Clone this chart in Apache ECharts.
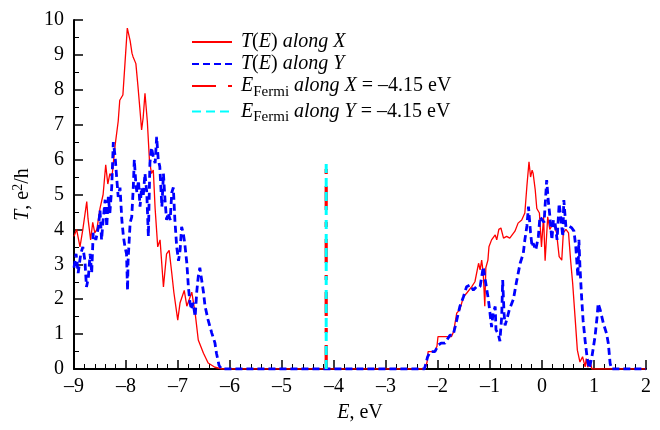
<!DOCTYPE html>
<html><head><meta charset="utf-8">
<script src="https://cdn.jsdelivr.net/npm/echarts@6/dist/echarts.min.js"></script>
<style>html,body{margin:0;padding:0;background:#fff}#c{width:660px;height:430px}</style>
</head><body><div id="c"></div>
<script>
// E (eV) vs T (e^2/h)
const tAlongX = [
[-9.0,3.8],[-8.95,4.0],[-8.885,3.5],[-8.83,4.0],[-8.755,4.8],[-8.73,4.3],[-8.68,3.7],[-8.64,4.2],[-8.60,3.9],[-8.56,4.0],
[-8.50,4.6],[-8.44,5.0],[-8.39,5.85],[-8.35,5.3],[-8.31,5.6],[-8.27,5.5],[-8.21,6.4],[-8.15,7.1],[-8.12,7.7],[-8.06,7.85],
[-8.02,8.75],[-7.975,9.77],[-7.92,9.4],[-7.885,9.05],[-7.865,8.95],[-7.81,8.75],[-7.77,8.1],[-7.73,7.4],[-7.70,6.85],[-7.67,7.2],
[-7.635,7.9],[-7.59,7.1],[-7.55,6.0],[-7.51,5.6],[-7.475,5.7],[-7.44,4.6],[-7.39,3.5],[-7.345,3.7],[-7.28,2.35],[-7.22,3.3],
[-7.17,3.4],[-7.12,2.75],[-7.08,2.2],[-7.005,1.4],[-6.96,1.9],[-6.88,2.25],[-6.83,1.8],[-6.735,2.2],[-6.67,1.6],[-6.61,0.83],
[-6.51,0.45],[-6.42,0.17],[-6.29,0.05],[-6.15,0],
[-2.25,0],[-2.21,0.2],[-2.19,0.5],[-2.06,0.5],[-2.02,0.65],[-2.0,0.93],[-1.74,0.93],[-1.70,1.07],[-1.64,1.6],[-1.58,1.7],
[-1.51,2.07],[-1.45,2.17],[-1.35,2.36],[-1.29,2.5],[-1.22,3.03],[-1.19,2.84],[-1.16,3.12],[-1.13,2.74],[-1.10,1.8],[-1.08,2.9],
[-1.04,3.12],[-1.02,3.5],[-0.97,3.7],[-0.90,3.84],[-0.87,3.7],[-0.83,4.0],[-0.79,4.04],[-0.74,3.75],[-0.68,3.8],[-0.62,3.75],
[-0.52,3.95],[-0.46,4.18],[-0.39,4.27],[-0.33,4.47],[-0.29,5.25],[-0.25,5.94],[-0.22,5.5],[-0.19,5.7],[-0.17,5.6],[-0.13,5.13],
[-0.10,4.6],[-0.05,4.47],[-0.01,3.5],[0.03,4.36],[0.06,3.1],[0.11,4.36],[0.15,4.0],[0.22,4.18],[0.28,3.9],[0.33,3.22],
[0.38,3.12],[0.41,3.9],[0.46,4.0],[0.51,3.9],[0.55,3.12],[0.59,2.45],[0.635,1.5],[0.68,0.54],[0.73,0.2],[0.78,0.35],
[0.83,0.06],[0.85,0.3],[0.88,0.05],[0.92,0.25],[0.96,0],[2.0,0]
];
const tAlongY = [
[-9.0,2.9],[-8.96,3.3],[-8.92,2.75],[-8.87,3.3],[-8.83,3.5],[-8.79,3.1],[-8.76,2.35],[-8.725,2.6],[-8.69,3.3],[-8.66,2.75],
[-8.63,3.9],[-8.58,3.7],[-8.53,4.07],[-8.5,4.55],[-8.47,3.7],[-8.44,4.27],[-8.40,4.85],[-8.37,4.07],[-8.34,4.93],[-8.31,4.47],
[-8.275,5.2],[-8.244,6.5],[-8.21,6.1],[-8.18,5.5],[-8.15,4.93],[-8.115,5.2],[-8.08,4.27],[-8.05,3.8],[-8.02,3.5],[-7.99,3.3],
[-7.97,2.25],[-7.96,3.1],[-7.92,4.2],[-7.89,4.35],[-7.86,5.2],[-7.84,6.0],[-7.81,5.3],[-7.79,5.05],[-7.76,5.4],[-7.73,4.65],
[-7.70,5.2],[-7.67,4.93],[-7.635,5.6],[-7.60,5.05],[-7.57,3.8],[-7.54,5.9],[-7.51,6.35],[-7.475,6.07],[-7.44,5.9],[-7.41,6.65],
[-7.38,6.0],[-7.35,5.8],[-7.31,4.65],[-7.28,5.6],[-7.25,4.85],[-7.22,4.27],[-7.19,4.47],[-7.15,4.27],[-7.12,5.05],[-7.09,5.2],
[-7.06,4.27],[-7.025,3.5],[-6.99,3.1],[-6.96,3.4],[-6.93,4.07],[-6.90,3.9],[-6.87,3.6],[-6.83,3.03],[-6.80,2.35],[-6.77,1.9],
[-6.74,1.7],[-6.71,1.9],[-6.67,1.5],[-6.64,2.2],[-6.61,2.65],[-6.58,2.9],[-6.545,2.55],[-6.51,2.2],[-6.48,1.8],[-6.42,1.4],
[-6.35,1.03],[-6.29,0.75],[-6.26,0.45],[-6.21,0.1],[-6.16,0],
[-2.26,0],[-2.25,0.05],[-2.2,0.35],[-2.15,0.5],[-2.06,0.5],[-1.99,0.69],[-1.94,0.74],[-1.865,0.74],[-1.77,0.97],[-1.71,0.97],
[-1.67,1.21],[-1.64,1.4],[-1.58,1.79],[-1.51,2.07],[-1.45,2.36],[-1.385,2.41],[-1.32,2.26],[-1.26,2.36],[-1.19,2.36],[-1.16,2.64],
[-1.13,2.93],[-1.10,2.64],[-1.06,2.26],[-1.03,1.98],[-1.0,1.6],[-0.97,1.2],[-0.94,1.6],[-0.90,1.79],[-0.885,1.12],[-0.84,1.0],
[-0.81,0.8],[-0.775,1.5],[-0.756,2.55],[-0.73,1.6],[-0.71,1.25],[-0.68,1.4],[-0.63,1.69],[-0.55,2.0],[-0.49,2.5],[-0.42,3.03],
[-0.36,3.31],[-0.33,3.7],[-0.29,4.1],[-0.26,4.65],[-0.22,3.9],[-0.19,3.5],[-0.17,3.6],[-0.12,3.41],[-0.07,3.79],[-0.04,4.36],
[-0.01,4.4],[0.04,4.2],[0.09,5.41],[0.12,4.84],[0.15,4.4],[0.19,3.7],[0.22,4.27],[0.25,4.2],[0.29,3.7],[0.33,4.74],
[0.36,4.36],[0.40,3.79],[0.42,4.84],[0.46,4.07],[0.51,4.1],[0.57,4.05],[0.615,3.95],[0.65,3.5],[0.69,2.64],[0.71,3.7],
[0.73,2.93],[0.76,2.1],[0.79,1.4],[0.83,0.8],[0.87,0.3],[0.91,0.02],[0.96,0.35],[1.02,0.93],[1.06,1.5],[1.08,1.88],
[1.12,1.69],[1.18,1.31],[1.24,1.02],[1.275,0.74],[1.31,0.16],[1.34,0],[2.0,0]
];
const fermiE = -4.15;
const fermiTop = 6;
const fermiX = [[fermiE,0],[fermiE,fermiTop]];
const fermiY = [[fermiE,0],[fermiE,fermiTop]];
const xMin = -9, xMax = 2, yMin = 0, yMax = 10;
const names = ['tx','ty','fx','fy'];

const serif = 'Liberation Serif';
const legendText = {
  tx: '{i|T}{n|(}{i|E}{n|)} {i|along X}',
  ty: '{i|T}{n|(}{i|E}{n|)} {i|along Y}',
  fx: '{i|E}{sub|Fermi}{n| }{i|along X}{n| = –4.15 eV}',
  fy: '{i|E}{sub|Fermi}{n| }{i|along Y}{n| = –4.15 eV}'
};
const chart = echarts.init(document.getElementById('c'), null, {renderer:'canvas'});
chart.setOption({
  animation:false,
  backgroundColor:'#fff',
  grid:{left:74, right:14, top:20, bottom:61},
  legend:{
    data:names, left:186, top:27, orient:'vertical', itemWidth:40, itemHeight:14, itemGap:2,
    itemStyle:{opacity:0},
    formatter:n=>legendText[n],
    textStyle:{fontFamily:serif, fontSize:20, color:'#000', padding:[0,0,0,4],
      rich:{
        i:{fontFamily:serif, fontSize:20, fontStyle:'italic', color:'#000'},
        n:{fontFamily:serif, fontSize:20, color:'#000'},
        sub:{fontFamily:serif, fontSize:15, color:'#000', padding:[12,0,0,0]}
      }}
  },
  xAxis:{
    type:'value', min:xMin, max:xMax, interval:1,
    name:'{i|E}{n|, eV}', nameLocation:'middle', nameGap:34,
    nameTextStyle:{rich:{i:{fontFamily:serif,fontSize:20,fontStyle:'italic',color:'#000'},n:{fontFamily:serif,fontSize:20,color:'#000'}}},
    axisLine:{onZero:false, lineStyle:{color:'#000', width:2}},
    axisTick:{inside:true, length:9, lineStyle:{color:'#000', width:1.5}},
    minorTick:{show:true, splitNumber:5, length:5, lineStyle:{color:'#000', width:1}},
    splitLine:{show:false},
    axisLabel:{fontFamily:serif, fontSize:20, color:'#000', margin:8,
      formatter:v=> v<0 ? '–'+(-v) : String(v)}
  },
  yAxis:{
    type:'value', min:yMin, max:yMax, interval:1,
    name:'{i|T}{n|, e}{sup|2}{n|/h}', nameLocation:'middle', nameGap:30, nameRotate:90,
    nameTextStyle:{rich:{
      i:{fontFamily:serif,fontSize:20,fontStyle:'italic',color:'#000'},
      n:{fontFamily:serif,fontSize:20,color:'#000'},
      sup:{fontFamily:serif,fontSize:14,color:'#000',padding:[0,0,10,0]}}},
    axisLine:{show:true, onZero:false, lineStyle:{color:'#000', width:2}},
    axisTick:{inside:true, length:9, lineStyle:{color:'#000', width:1.5}},
    minorTick:{show:true, splitNumber:2, length:5, lineStyle:{color:'#000', width:1}},
    splitLine:{show:false},
    axisLabel:{fontFamily:serif, fontSize:20, color:'#000', margin:10}
  },
  series:[
    {name:'tx', type:'line', data:tAlongX, symbol:'none', lineStyle:{color:'#ff0000', width:1.3}, itemStyle:{color:'#ff0000'}, z:3},
    {name:'ty', type:'line', data:tAlongY, symbol:'none', lineStyle:{color:'#0000ff', width:2.8, type:[7,4]}, itemStyle:{color:'#0000ff'}, z:4},
    {name:'fx', type:'line', data:fermiX, symbol:'none', lineStyle:{color:'#ff0000', width:3.2, type:[24,12,5,12]}, itemStyle:{color:'#ff0000'}, z:5},
    {name:'fy', type:'line', data:fermiY, symbol:'none', lineStyle:{color:'#00ffff', width:3, type:[9,5]}, itemStyle:{color:'#00ffff'}, z:6}
  ]
});
</script></body></html>
